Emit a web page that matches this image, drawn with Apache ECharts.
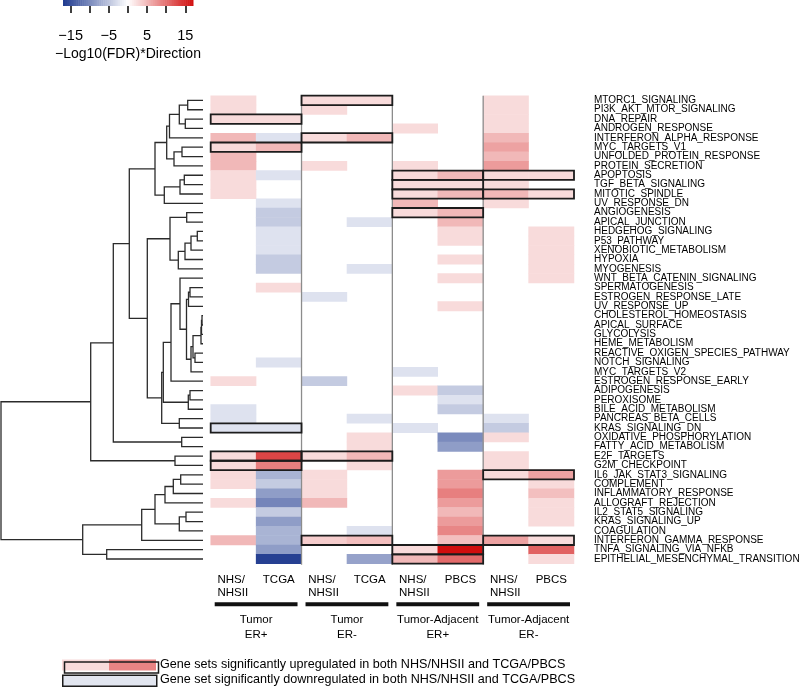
<!DOCTYPE html>
<html><head><meta charset="utf-8">
<script src="https://cdn.jsdelivr.net/npm/echarts@6/dist/echarts.min.js"></script>
<style>html,body{margin:0;padding:0;background:#fff}#c{width:800px;height:687px}</style>
</head><body><div id="c"></div>
<script>
const geneSets = ['MTORC1_SIGNALING','PI3K_AKT_MTOR_SIGNALING','DNA_REPAIR','ANDROGEN_RESPONSE','INTERFERON_ALPHA_RESPONSE','MYC_TARGETS_V1','UNFOLDED_PROTEIN_RESPONSE','PROTEIN_SECRETION','APOPTOSIS','TGF_BETA_SIGNALING','MITOTIC_SPINDLE','UV_RESPONSE_DN','ANGIOGENESIS','APICAL_JUNCTION','HEDGEHOG_SIGNALING','P53_PATHWAY','XENOBIOTIC_METABOLISM','HYPOXIA','MYOGENESIS','WNT_BETA_CATENIN_SIGNALING','SPERMATOGENESIS','ESTROGEN_RESPONSE_LATE','UV_RESPONSE_UP','CHOLESTEROL_HOMEOSTASIS','APICAL_SURFACE','GLYCOLYSIS','HEME_METABOLISM','REACTIVE_OXIGEN_SPECIES_PATHWAY','NOTCH_SIGNALING','MYC_TARGETS_V2','ESTROGEN_RESPONSE_EARLY','ADIPOGENESIS','PEROXISOME','BILE_ACID_METABOLISM','PANCREAS_BETA_CELLS','KRAS_SIGNALING_DN','OXIDATIVE_PHOSPHORYLATION','FATTY_ACID_METABOLISM','E2F_TARGETS','G2M_CHECKPOINT','IL6_JAK_STAT3_SIGNALING','COMPLEMENT','INFLAMMATORY_RESPONSE','ALLOGRAFT_REJECTION','IL2_STAT5_SIGNALING','KRAS_SIGNALING_UP','COAGULATION','INTERFERON_GAMMA_RESPONSE','TNFA_SIGNALING_VIA_NFKB','EPITHELIAL_MESENCHYMAL_TRANSITION'];
const columnLabels = ['NHS/\nNHSII','TCGA','NHS/\nNHSII','TCGA','NHS/\nNHSII','PBCS','NHS/\nNHSII','PBCS'];
const groupLabels = ['Tumor\nER+','Tumor\nER-','Tumor-Adjacent\nER+','Tumor-Adjacent\nER-'];

// -Log10(FDR)*Direction, one array per column (rows in geneSets order)
const tumorERpos_NHS = [2.5,2.5,2.5,0,5,2.5,5,5,2.5,2.5, 2.5,0,0,0,0,0,0,0,0,0, 0,0,0,0,0,0,0,0,0,0, 2.5,0,0,-2.5,-2.5,-2.5,0,0,2.5,2.5, 2.5,2.5,0,2.5,0,0,0,5,0,0];
const tumorERpos_TCGA = [0,0,2.5,0,-2.5,5,0,0,-2.5,0, 0,-2.5,-4.5,-4.5,-2.5,-2.5,-2.5,-4.5,-4.5,0, 2.5,0,0,0,0,0,0,0,-2.5,0, 0,0,0,0,0,-2.5,0,0,13,9, -6.5,-4.5,-8.5,-10.5,-4.5,-8.5,-6.5,-6.5,-8.5,-16.5];
const tumorERneg_NHS = [2.5,2.5,0,0,2.5,0,0,2.5,0,0, 0,0,0,0,0,0,0,0,0,0, 0,-2.5,0,0,0,0,0,0,0,0, -4.5,0,0,0,0,0,0,0,2.5,0, 2.5,2.5,2.5,5,0,0,0,3.5,0,0];
const tumorERneg_TCGA = [2.5,0,0,0,5,0,0,0,0,0, 0,0,0,-2.5,0,0,0,0,-2.5,0, 0,0,0,0,0,0,0,0,0,0, 0,0,0,0,-2.5,0,2.5,2.5,5,2.5, 0,0,0,0,0,0,-2.5,4.5,0,-8];
const adjERpos_NHS = [0,0,0,2.5,0,0,0,2.5,2.5,2.5, 2.5,5,2.5,0,0,0,0,0,0,0, 0,0,0,0,0,0,0,0,0,-2.5, 0,2.5,0,0,0,-2.5,0,0,0,0, 0,0,0,0,0,0,0,0,2.5,5];
const adjERpos_PBCS = [0,0,0,0,0,0,0,0,5,2.5, 5,0,5,5,2.5,2.5,0,2.5,0,2.5, 0,0,2.5,0,0,0,0,0,0,0, 0,-4.5,-2.5,-4.5,0,0,-10,-8.5,0,0, 7,7,9,7,5,7,8.5,4.5,17,10.5];
const adjERneg_NHS = [2.5,2.5,2.5,2.5,5,6.5,5,7,2.5,2.5, 5,2.5,0,0,0,0,0,0,0,0, 0,0,0,0,0,0,0,0,0,0, 0,0,0,0,-2.5,-4.5,2.5,0,2.5,2.5, 2.5,0,0,0,0,0,0,6.5,0,0];
const adjERneg_PBCS = [0,0,0,0,0,0,0,0,2.5,0, 2.5,0,0,0,2.5,2.5,2.5,2.5,2.5,2.5, 0,0,0,0,0,0,0,0,0,0, 0,0,0,0,0,0,0,0,0,0, 6.5,2.5,4.5,2.5,2.5,2.5,0,2.5,11,2.5];
const columnValues = [tumorERpos_NHS, tumorERpos_TCGA, tumorERneg_NHS, tumorERneg_TCGA, adjERpos_NHS, adjERpos_PBCS, adjERneg_NHS, adjERneg_PBCS];

// [row, group] pairs significant in both cohorts
const boxedUp = [[0,1],[2,0],[4,1],[5,0],[8,2],[8,3],[9,2],[10,2],[10,3],[12,2],[38,0],[38,1],[39,0],[40,3],[47,1],[47,3],[48,2],[49,2]];
const boxedDown = [[35,0]];

// dendrogram merges: [childA, childB, height]; numbers = rows, 'mN' = Nth merge
const dendroMerges = [
  [0,1,15.3],[2,3,17.7],['m0','m1',23.7],['m2',4,33.5],[5,6,21],['m4',7,29],['m3','m5',36.3],
  [8,9,18.7],['m7',10,23],['m8',11,38.7],['m6','m9',48],
  [12,13,16.3],[14,15,5.7],['m12',16,12],['m13',17,18],['m14',18,24.7],['m11','m15',33],
  [20,21,13],['m17',22,14.5],[23,24,1],['m19',25,1.5],['m20',26,2],[27,28,8],['m21','m22',10],['m23',29,12],
  ['m18','m24',16.5],[19,'m25',23],['m26',30,32],[31,32,13],['m28',33,14.7],['m27','m29',39.7],
  [34,35,23.7],['m30','m31',41.3],['m16','m32',55.7],['m10','m33',73.7],[36,37,21.3],['m34','m35',89.7],
  [38,39,28],['m36','m37',112.3],
  [40,41,22.3],['m39',42,29.7],['m40',43,38],[44,45,17],['m42',46,23.7],['m41','m43',48],['m44',47,61.3],
  [48,49,96.3],['m45','m46',120.3],['m38','m47',202]
];
const dendroMax = 202;

const colorMin = -17, colorMax = 17;
const colorbarTicks = [-15,-10,-5,0,5,10,15];
const colorbarLabels = [-15,-5,5,15];
const groupBoundaries = [2,4,6];

// ---- build series data ----
const heatData = [];
columnValues.forEach((col, c) => col.forEach((v, r) => { if (v !== 0) heatData.push([c, r, v]); }));
const boxData = boxedUp.map(b => [b[1], b[0], 1]).concat(boxedDown.map(b => [b[1], b[0], -1]));

const nodeY = {}, nodeH = {};
const yOf = k => typeof k === 'number' ? k : nodeY[k];
const hOf = k => typeof k === 'number' ? 0 : nodeH[k];
const dendroData = dendroMerges.map((m, i) => {
  const [a, b, h] = m;
  const ya = yOf(a), yb = yOf(b);
  nodeY['m' + i] = (ya + yb) / 2; nodeH['m' + i] = h;
  return [h, ya, hOf(a), yb, hOf(b)];
});
const colorbarData = [];
for (let v = colorMin; v < colorMax; v += 0.5) colorbarData.push([v + 0.25, 0.5, v + 0.25]);

const FONT = 'Liberation Sans, Arial, sans-serif';
const chart = echarts.init(document.getElementById('c'), null, {renderer: 'canvas'});
const gridTop = 95.7, gridH = 468;

chart.setOption({
  animation: false,
  textStyle: {fontFamily: FONT, color: '#000'},
  grid: [
    {left: 210.7, top: gridTop, width: 363.3, height: gridH, outerBoundsMode: 'none', containLabel: false},
    {left: 1, top: gridTop, width: 202, height: gridH, outerBoundsMode: 'none', containLabel: false},
    {left: 63, top: -4, width: 130, height: 10, outerBoundsMode: 'none', containLabel: false}
  ],
  xAxis: [
    {gridIndex: 0, type: 'category', data: columnLabels.map((c, i) => 'c' + i), position: 'bottom',
     axisLine: {show: false}, axisTick: {show: false}, splitLine: {show: false},
     axisLabel: {interval: 0, margin: 10, color: '#000', fontSize: 11.5, fontFamily: FONT, lineHeight: 13,
       formatter: (v, i) => {
         const lab = columnLabels[i];
         if (lab.indexOf('\n') >= 0) return lab.split('\n').map(s => '{n|' + s + '}').join('\n');
         return lab;
       },
       rich: {n: {width: 32, align: 'left', fontSize: 11.5, fontFamily: FONT, color: '#000', lineHeight: 13}}}},
    {gridIndex: 1, type: 'value', min: 0, max: dendroMax, inverse: true, show: false},
    {gridIndex: 2, type: 'value', min: colorMin, max: colorMax, position: 'bottom', offset: 2,
     axisLine: {show: false}, splitLine: {show: false},
     axisTick: {show: true, customValues: colorbarTicks, length: 7, lineStyle: {color: '#000', width: 1.5}},
     axisLabel: {customValues: colorbarLabels, margin: 20, fontSize: 14.5, color: '#000', fontFamily: FONT,
       formatter: v => String(v).replace('-', '\u2212')},
     name: '\u2212Log10(FDR)*Direction', nameLocation: 'middle', nameGap: 39,
     nameTextStyle: {fontSize: 14, color: '#000', fontFamily: FONT}}
  ],
  yAxis: [
    {gridIndex: 0, type: 'category', data: geneSets, inverse: true, position: 'right',
     axisLine: {show: false}, axisTick: {show: false}, splitLine: {show: false},
     axisLabel: {interval: 0, margin: 20, fontSize: 10, color: '#000', fontFamily: FONT}},
    {gridIndex: 1, type: 'value', min: -0.5, max: geneSets.length - 0.5, inverse: true, show: false},
    {gridIndex: 2, type: 'value', min: 0, max: 1, show: false}
  ],
  visualMap: {
    type: 'continuous', show: false, min: colorMin, max: colorMax, dimension: 2,
    seriesIndex: [0, 5],
    inRange: {color: ['#1f3a8f', '#ffffff', '#d10d0d']}
  },
  series: [
    {type: 'heatmap', xAxisIndex: 0, yAxisIndex: 0, data: heatData,
     itemStyle: {borderWidth: 0}, emphasis: {disabled: true}, z: 1},
    {type: 'custom', xAxisIndex: 0, yAxisIndex: 0, data: groupBoundaries.map(b => [b, 0]), z: 3, silent: true,
     renderItem: (params, api) => {
       const sz = api.size([1, 1]);
       const x = api.coord([api.value(0), 0])[0] - sz[0] / 2;
       const y0 = api.coord([0, 0])[1] - sz[1] / 2;
       const y1 = api.coord([0, geneSets.length - 1])[1] + sz[1] / 2 + 1;
       return {type: 'line', shape: {x1: x, y1: y0, x2: x, y2: y1}, style: {stroke: '#8c8c8c', lineWidth: 1.3}};
     }},
    {type: 'custom', xAxisIndex: 0, yAxisIndex: 0, data: boxData, z: 4, silent: true,
     renderItem: (params, api) => {
       const g = api.value(0), r = api.value(1);
       const sz = api.size([1, 1]);
       const p = api.coord([g * 2, r]);
       return {type: 'rect', shape: {x: p[0] - sz[0] / 2, y: p[1] - sz[1] / 2, width: sz[0] * 2, height: sz[1]},
               style: {fill: null, stroke: '#1c1c1c', lineWidth: 1.8}};
     }},
    {type: 'custom', xAxisIndex: 0, yAxisIndex: 0, data: groupLabels.map((g, i) => [i, 0]), z: 4, silent: true,
     renderItem: (params, api) => {
       const g = api.value(0);
       const sz = api.size([1, 1]);
       const pa = api.coord([g * 2, geneSets.length - 1]);
       const pb = api.coord([g * 2 + 1, geneSets.length - 1]);
       const x0 = pa[0] - sz[0] / 2 + 4, x1 = pb[0] + sz[0] / 2 - 4;
       const bottom = pa[1] + sz[1] / 2;
       return {type: 'group', children: [
         {type: 'rect', shape: {x: x0, y: bottom + 38.5, width: x1 - x0, height: 4}, style: {fill: '#111'}},
         {type: 'text', x: (x0 + x1) / 2, y: bottom + 49,
          style: {text: groupLabels[g], textAlign: 'center', textVerticalAlign: 'top', fontSize: 11.5,
                  fontFamily: FONT, fill: '#000', lineHeight: 15}}
       ]};
     }},
    {type: 'custom', xAxisIndex: 1, yAxisIndex: 1, data: dendroData, z: 2, silent: true,
     renderItem: (params, api) => {
       const H = api.value(0), ya = api.value(1), ha = api.value(2), yb = api.value(3), hb = api.value(4);
       const pts = [api.coord([ha, ya]), api.coord([H, ya]), api.coord([H, yb]), api.coord([hb, yb])];
       return {type: 'polyline', shape: {points: pts}, style: {stroke: '#2b2b2b', lineWidth: 1.3, fill: null}};
     }},
    {type: 'custom', xAxisIndex: 2, yAxisIndex: 2, data: colorbarData, z: 2, silent: true,
     renderItem: (params, api) => {
       const v = api.value(0);
       const a = api.coord([v - 0.25, 1]), b = api.coord([v + 0.25, 0]);
       return {type: 'rect', shape: {x: a[0], y: a[1], width: b[0] - a[0] + 0.5, height: b[1] - a[1]},
               style: {fill: api.visual('color')}};
     }}
  ],
  graphic: [
    {type: 'rect', left: 62, top: 659.5, shape: {width: 47, height: 11}, style: {fill: '#f8dada'}},
    {type: 'rect', left: 109, top: 659.5, shape: {width: 47, height: 11}, style: {fill: '#e98484'}},
    {type: 'rect', left: 62, top: 659.5, shape: {width: 94, height: 11}, style: {fill: null, stroke: '#1c1c1c', lineWidth: 1.5}},
    {type: 'rect', left: 62, top: 674.5, shape: {width: 94, height: 11}, style: {fill: '#e2e6f0', stroke: '#1c1c1c', lineWidth: 1.5}},
    {type: 'text', left: 160, top: 658.5, style: {text: 'Gene sets significantly upregulated in both NHS/NHSII and TCGA/PBCS', fontSize: 12.6, fontFamily: FONT, fill: '#000'}},
    {type: 'text', left: 160, top: 673.5, style: {text: 'Gene set significantly downregulated in both NHS/NHSII and TCGA/PBCS', fontSize: 12.6, fontFamily: FONT, fill: '#000'}}
  ]
});
</script>
</body></html>
